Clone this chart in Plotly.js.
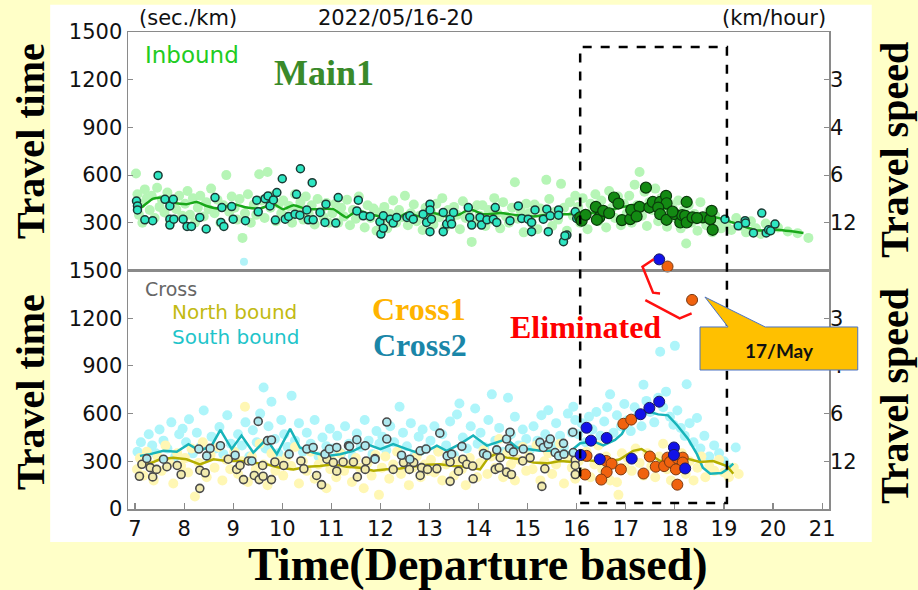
<!DOCTYPE html>
<html><head><meta charset="utf-8">
<script src="https://cdn.plot.ly/plotly-3.0.1.min.js"></script>
<style>html,body{margin:0;padding:0;background:#ffffc8;}#chart{width:918px;height:590px;}</style>
</head><body><div id="chart"></div>
<script>
// ---------- Main1 (top panel) ----------
const mainLightX = [7.02,7.05,7.08,7.12,7.15,7.2,7.24,7.3,7.34,7.4,7.45,7.5,7.55,7.6,7.66,7.72,7.78,7.84,7.9,7.96,
 8.02,8.07,8.12,8.18,8.22,8.28,8.33,8.4,8.45,8.5,8.55,8.62,8.68,8.74,8.8,8.86,8.92,8.97,
 9.03,9.08,9.13,9.19,9.24,9.3,9.36,9.42,9.47,9.53,9.58,9.64,9.7,9.76,9.81,9.87,9.93,9.98,
 10.02,10.08,10.14,10.2,10.26,10.31,10.37,10.43,10.48,10.54,10.6,10.66,10.72,10.78,10.84,10.9,10.95,
 11.02,11.08,11.14,11.2,11.26,11.32,11.38,11.44,11.5,11.56,11.62,11.68,11.74,11.8,11.86,11.92,11.97,
 12.03,12.08,12.14,12.2,12.26,12.32,12.38,12.44,12.5,12.56,12.62,12.68,12.74,12.8,12.86,12.92,12.97,
 13.03,13.08,13.14,13.2,13.26,13.32,13.38,13.44,13.5,13.56,13.62,13.68,13.74,13.8,13.86,13.92,13.97,
 14.02,14.08,14.14,14.2,14.26,14.32,14.38,14.44,14.5,14.56,14.62,14.68,14.74,14.8,14.86,14.92,14.97,
 15.03,15.08,15.14,15.2,15.26,15.32,15.38,15.44,15.5,15.56,15.62,15.68,15.74,15.8,15.86,15.92,15.97,
 16.03,16.07,16.12,16.17,16.22,16.28,16.33,16.38,16.44,16.5,16.55,16.6,16.66,16.72,16.78,16.84,16.9,16.96,
 17.02,17.07,17.12,17.18,17.23,17.28,17.33,17.38,17.43,17.48,17.54,17.6,17.66,17.72,17.78,17.84,17.9,17.96,
 18.02,18.07,18.12,18.18,18.23,18.28,18.34,18.4,18.46,18.52,18.58,18.64,18.7,18.76,18.82,18.88,18.94,
 19.05,19.15,19.25,19.35,19.45,19.55,19.65,19.75,19.85,19.95,20.1,20.3,20.5,20.72];
const mainLightY = [610,480,350,420,300,510,455,380,470,330,520,400,445,365,490,305,430,385,470,345,
 420,500,350,455,300,395,470,340,430,385,515,360,445,300,410,600,370,465,
 395,320,450,205,360,480,300,415,350,605,440,330,620,395,470,310,420,360,
 440,340,405,300,480,375,430,320,465,355,410,290,450,370,335,425,300,
 360,420,300,395,340,445,285,380,325,465,350,270,410,330,390,250,365,
 320,400,265,355,440,300,380,335,470,285,360,415,310,345,255,395,330,
 370,290,420,335,455,270,380,315,400,350,260,435,330,375,180,300,410,
 345,410,280,380,320,455,360,265,430,340,300,395,555,325,375,240,420,
 360,300,415,260,390,335,570,450,280,370,320,545,395,250,430,345,470,
 400,300,455,350,260,420,380,480,310,440,355,270,500,395,330,465,285,420,
 360,470,300,540,410,620,345,495,280,430,380,515,310,455,350,275,420,390,
 330,440,265,380,170,410,300,355,250,430,320,285,375,240,345,300,265,
 300,255,330,280,240,310,265,230,295,250,270,245,235,205];
const mainOtherX = [9.22];
const mainOtherY = [55];
const mainInX = [7.03,7.05,7.05,7.20,7.36,7.47,7.61,7.71,7.71,7.71,7.78,7.79,7.98,8.06,8.15,8.32,8.45,8.63,8.77,8.75,8.81,8.97,9.0,9.25,9.48,9.51,9.65,9.71,9.75,9.82,9.89,9.86,10.0,10.06,10.13,10.26,10.29,10.36,10.37,10.50,10.53,10.61,10.63,10.77,10.87,10.89,11.09,11.14,11.52,11.55,11.65,11.79,11.99,12.01,12.06,12.06,12.20,12.26,12.33,12.54,12.60,12.67,12.87,12.94,13.01,13.01,13.04,13.01,13.28,13.28,13.35,13.42,13.45,13.49,13.79,13.82,13.86,14.03,14.06,14.17,14.30,14.37,14.34,14.64,14.81,14.88,15.01,15.08,15.08,15.15,15.32,15.39,15.42,15.46,15.63,15.63,15.73,15.80,15.97,16.0,15.76,19.02,19.29,19.43,19.44,19.60,19.77,19.86,19.91,19.95,20.04];
const mainInY = [437,406,381,319,313,598,448,406,323,286,448,323,323,277,277,334,261,459,396,302,277,402,323,313,442,369,452,469,406,444,490,317,577,323,340,354,479,348,640,381,319,552,319,365,302,417,298,459,375,442,344,340,306,229,265,344,323,298,334,334,344,323,354,302,417,381,323,244,365,244,292,323,292,365,396,334,286,334,286,319,323,302,396,313,406,327,323,302,244,381,323,386,244,344,381,348,181,223,369,327,219,323,281,313,298,236,361,236,256,250,292];
const main1X = [16.07,16.10,16.39,16.46,16.41,16.54,16.76,16.85,16.92,17.09,17.11,17.28,17.41,17.48,17.55,17.70,17.82,17.83,17.66,17.70,17.83,18.0,18.11,18.15,18.24,18.21,18.24,18.36,18.57,18.72,18.75,18.77,16.18,16.66,17.22,17.95,18.45];
const main1Y = [334,313,400,334,319,375,459,421,317,323,381,400,521,396,431,431,469,423,396,354,319,354,302,348,431,344,302,334,334,323,375,256,350,360,340,370,330];
const mainAvgX = [7.03,7.17,7.37,7.58,7.78,8.05,8.26,8.46,8.73,9.0,9.28,9.55,9.82,10.02,10.23,10.50,10.77,11.04,11.31,11.52,11.79,12.06,12.26,12.54,12.81,13.08,13.35,13.62,13.82,14.10,14.44,14.78,15.12,15.46,15.80,16.07,16.48,16.88,17.29,17.70,18.11,18.51,18.92,19.33,19.67,20.07,20.62];
const mainAvgY = [375,406,452,459,427,417,431,406,390,417,396,390,417,386,411,386,386,386,334,375,354,334,313,361,340,361,340,354,386,354,361,348,340,354,354,360,365,396,417,396,365,354,328,286,252,256,236];

// ---------- Cross (bottom panel) ----------
const southLightX = [7.05,7.12,7.2,7.28,7.35,7.42,7.5,7.58,7.66,7.74,7.82,7.9,7.97,
 8.04,8.1,8.18,8.26,8.33,8.4,8.48,8.56,8.64,8.72,8.8,8.88,8.95,
 9.03,9.1,9.18,9.25,9.33,9.4,9.48,9.55,9.62,9.66,9.72,9.78,9.85,9.92,9.98,
 10.04,10.11,10.19,10.26,10.34,10.42,10.5,10.58,10.66,10.74,10.82,10.9,10.97,
 11.04,11.12,11.2,11.28,11.36,11.44,11.52,11.6,11.68,11.76,11.84,11.92,11.98,
 12.04,12.12,12.2,12.28,12.36,12.39,12.46,12.54,12.62,12.7,12.78,12.86,12.94,
 13.02,13.1,13.18,13.26,13.34,13.42,13.5,13.56,13.61,13.68,13.76,13.84,13.93,13.98,
 14.04,14.12,14.2,14.27,14.34,14.42,14.5,14.6,14.66,14.74,14.82,14.9,14.97,
 15.04,15.12,15.2,15.28,15.36,15.42,15.5,15.58,15.66,15.74,15.82,15.9,15.93,15.97,
 16.03,16.1,16.18,16.25,16.32,16.4,16.48,16.56,16.62,16.68,16.75,16.82,16.9,16.97,
 17.04,17.1,17.18,17.25,17.32,17.36,17.42,17.5,17.58,17.66,17.7,17.76,17.82,17.9,17.97,
 18.0,18.05,18.12,18.2,18.24,18.3,18.38,18.45,18.52,18.6,18.7,18.8,18.9,
 19.0,19.1,19.24];
const southLightY = [360,420,315,470,400,350,500,430,380,545,330,470,505,
 420,565,350,480,390,620,330,455,380,515,345,590,410,
 360,470,400,545,330,495,420,600,764,380,520,675,440,350,560,
 470,390,713,430,540,360,480,410,560,330,450,395,505,
 380,460,350,520,410,330,475,390,560,430,345,490,410,
 455,370,520,420,360,643,480,395,540,340,455,500,380,
 430,520,365,470,400,550,340,594,664,450,380,520,632,410,
 480,390,560,721,430,510,360,700,470,580,400,500,440,
 370,520,430,590,470,621,400,540,460,390,600,480,643,560,
 470,540,420,580,500,610,460,550,640,721,480,590,520,660,
 560,490,640,590,520,781,680,610,545,700,989,640,738,580,530,
 1026,620,510,460,785,540,420,572,380,460,330,400,350,
 300,260,387];
const northLightX = [7.04,7.1,7.17,7.24,7.3,7.38,7.46,7.54,7.62,7.7,7.78,7.86,7.94,
 8.02,8.08,8.15,8.22,8.3,8.38,8.46,8.54,8.62,8.7,8.78,8.86,8.94,
 9.02,9.1,9.18,9.24,9.3,9.38,9.46,9.54,9.62,9.7,9.78,9.86,9.94,
 10.02,10.1,10.18,10.26,10.34,10.42,10.5,10.58,10.66,10.74,10.82,10.9,10.98,
 11.03,11.1,11.18,11.26,11.34,11.42,11.5,11.58,11.66,11.74,11.82,11.9,11.97,
 12.03,12.1,12.18,12.26,12.34,12.42,12.5,12.58,12.66,12.74,12.82,12.9,12.97,
 13.03,13.1,13.18,13.26,13.34,13.42,13.5,13.58,13.66,13.74,13.82,13.9,13.97,
 14.03,14.1,14.18,14.26,14.34,14.42,14.5,14.58,14.66,14.74,14.82,14.9,14.97,
 15.03,15.1,15.18,15.26,15.34,15.42,15.5,15.58,15.66,15.74,15.82,15.9,15.97,
 16.04,16.12,16.2,16.28,16.36,16.44,16.52,16.6,16.68,16.76,16.82,16.85,16.92,16.98,
 17.04,17.12,17.2,17.28,17.36,17.44,17.52,17.6,17.68,17.76,17.84,17.92,17.98,
 18.05,18.14,18.22,18.3,18.38,18.46,18.54,18.62,18.7,18.8,18.9,19.0,19.1,19.2,19.3];
const northLightY = [250,320,210,360,280,180,330,240,400,290,160,350,270,
 320,230,380,79,290,420,200,340,260,390,180,310,250,
 360,220,300,643,170,330,250,410,280,150,350,240,300,
 210,330,270,390,160,300,240,360,190,280,330,130,250,
 300,200,350,240,280,170,320,260,130,290,210,340,89,
 260,330,190,280,360,220,300,150,260,330,200,280,240,
 310,230,360,180,280,330,210,300,250,150,320,270,200,
 290,370,220,330,260,440,200,350,280,180,310,390,240,
 330,250,400,180,300,350,220,280,410,160,320,260,190,
 300,230,360,200,280,400,250,330,180,290,168,89,350,260,
 320,240,380,290,210,350,270,200,330,410,250,180,300,
 280,350,220,300,180,260,330,200,270,240,310,230,200,260,220];
const crossNX = [7.09,7.14,7.31,7.36,7.44,7.65,7.94,7.86,8.32,8.32,8.43,8.90,9.07,9.14,9.21,9.31,9.43,9.53,9.60,9.61,9.78,9.85,10.03,10.38,10.44,10.70,10.80,10.91,11.04,11.11,11.45,11.53,11.69,11.89,11.24,11.71,12.26,12.47,12.59,12.68,12.84,12.81,12.96,13.15,13.42,13.42,13.59,13.68,13.76,13.88,13.89,14.34,14.42,14.44,14.57,14.67,14.90,15.05,15.29,15.35,15.97,15.97,15.97];
const crossNY = [206,281,260,202,249,266,217,274,244,130,228,313,249,274,185,302,211,185,274,206,185,296,274,302,253,211,153,313,292,238,296,202,249,317,296,302,249,292,249,292,260,211,249,253,296,174,238,313,281,270,190,249,260,323,232,217,302,323,142,253,308,217,274];
const crossSX = [7.24,7.58,8.30,8.46,8.53,8.74,9.04,9.38,9.51,9.70,9.78,10.14,10.50,10.63,10.87,10.96,11.11,11.35,11.52,11.69,11.37,11.89,12.13,12.13,12.43,12.60,12.81,12.93,13.21,13.36,13.45,13.66,14.10,14.17,14.37,14.57,14.64,14.63,14.71,14.91,15.25,15.32,15.42,15.46,15.56,15.63,15.73,15.74,15.92,15.93,16.07];
const crossSY = [317,313,377,334,381,398,338,302,551,430,434,345,377,387,345,377,387,398,436,398,394,313,547,440,338,313,366,377,477,334,345,394,349,338,372,440,483,381,359,377,419,387,408,440,355,334,413,345,483,355,340];
const southAvgX = [7.10,7.31,7.58,7.85,8.09,8.32,8.56,8.74,8.97,9.17,9.41,9.68,9.89,10.16,10.36,10.63,10.91,11.18,11.45,11.72,12.0,12.26,12.54,12.84,13.15,13.35,13.62,13.89,14.17,14.37,14.57,14.78,14.98,15.25,15.52,15.80,16.07,16.34,16.54,16.78,16.92,17.07,17.29,17.49,17.66,17.86,18.05,18.27,18.45,18.57,18.72,18.95,19.06,19.19];
const southAvgY = [334,345,366,360,408,366,398,498,377,462,355,440,345,504,387,355,334,345,366,408,377,408,377,345,398,366,408,462,398,419,440,387,377,366,366,345,414,425,400,435,472,557,600,610,595,589,525,440,345,260,222,226,249,285];
const northAvgX = [7.10,7.51,7.78,8.05,8.32,8.60,8.87,9.14,9.41,9.68,9.95,10.23,10.50,10.77,11.04,11.31,11.58,11.86,12.13,12.40,12.68,12.95,13.21,13.49,13.76,14.03,14.20,14.34,14.57,14.85,15.12,15.39,15.66,15.93,16.07,16.34,16.61,16.88,17.15,17.32,17.49,17.70,17.97,18.24,18.51,18.78,19.06,19.19];
const northAvgY = [260,313,323,313,281,313,302,302,292,281,260,249,266,270,281,266,260,240,250,255,268,278,281,270,266,249,323,345,323,313,292,287,302,296,313,302,292,313,366,377,345,302,313,317,296,302,270,222];
const cross2X = [16.08,16.20,16.29,16.61,16.47,17.12,17.30,17.48,17.68,17.98,17.98,18.21];
const cross2Y = [340,511,430,447,313,317,596,636,675,387,340,255];
const cross1X = [16.95,17.11,16.20,16.60,16.71,16.61,16.17,16.50,16.90,17.36,17.49,17.61,17.78,17.85,17.90,18.05,18.16,18.16,18.02,18.05];
const cross1Y = [536,562,334,302,285,232,217,185,249,223,330,266,270,323,296,319,323,292,249,153];
// eliminated (17/May) points
const elim2X = [17.68];
const elim2Y = [1570];
const elim1X = [17.85,18.35];
const elim1Y = [1525,1315];

// ---------- axes ----------
const xTicks = [7,8,9,10,11,12,13,14,15,16,17,18,19,20,21];
const timeTicksTop = [300,600,900,1200,1500];
const timeTicksBottom = [0,300,600,900,1200,1500];
const speedTickVals = [300,600,900,1200];
const speedTickText = ['12','6','4','3'];

const gray = '#8a8a8a';
const tickFont = {family:'DejaVu Sans', size:21, color:'#111'};

const traces = [
  {x:mainLightX, y:mainLightY, xaxis:'x2', yaxis:'y2', mode:'markers', type:'scatter',
   marker:{size:10, color:'#b6f5b6'}},
  {x:mainOtherX, y:mainOtherY, xaxis:'x2', yaxis:'y2', mode:'markers', type:'scatter',
   marker:{size:8, color:'#b2f3f8'}},
  {x:mainAvgX, y:mainAvgY, xaxis:'x2', yaxis:'y2', mode:'lines', type:'scatter',
   line:{color:'#1aa81a', width:2.5, shape:'spline', smoothing:0.6}},
  {x:mainInX, y:mainInY, xaxis:'x2', yaxis:'y2', mode:'markers', type:'scatter',
   marker:{size:8, color:'#2ee6c2', line:{color:'#1c3a34', width:1.5}}},
  {x:main1X, y:main1Y, xaxis:'x2', yaxis:'y2', mode:'markers', type:'scatter',
   marker:{size:11, color:'#138a13', line:{color:'#0b3a0b', width:1.2}}},

  {x:southLightX, y:southLightY, xaxis:'x', yaxis:'y', mode:'markers', type:'scatter',
   marker:{size:10, color:'#aef5fa'}},
  {x:northLightX, y:northLightY, xaxis:'x', yaxis:'y', mode:'markers', type:'scatter',
   marker:{size:10, color:'#fff7b4'}},
  {x:southAvgX, y:southAvgY, xaxis:'x', yaxis:'y', mode:'lines', type:'scatter',
   line:{color:'#18b4ba', width:2.5}},
  {x:northAvgX, y:northAvgY, xaxis:'x', yaxis:'y', mode:'lines', type:'scatter',
   line:{color:'#b4ae00', width:2.5}},
  {x:crossNX, y:crossNY, xaxis:'x', yaxis:'y', mode:'markers', type:'scatter',
   marker:{size:8, color:'#f2ebae', line:{color:'#4a4a4a', width:1.6}}},
  {x:crossSX, y:crossSY, xaxis:'x', yaxis:'y', mode:'markers', type:'scatter',
   marker:{size:8, color:'#aee8ee', line:{color:'#4a4a4a', width:1.6}}},
  {x:cross1X, y:cross1Y, xaxis:'x', yaxis:'y', mode:'markers', type:'scatter',
   marker:{size:11, color:'#f0620e', line:{color:'#7a3a12', width:1}}},
  {x:cross2X, y:cross2Y, xaxis:'x', yaxis:'y', mode:'markers', type:'scatter',
   marker:{size:11, color:'#1212e8', line:{color:'#1a1a60', width:1}}},
  {x:elim1X, y:elim1Y, xaxis:'x', yaxis:'y5', mode:'markers', type:'scatter', cliponaxis:false,
   marker:{size:11, color:'#f0620e', line:{color:'#7a3a12', width:1}}},
  {x:elim2X, y:elim2Y, xaxis:'x', yaxis:'y5', mode:'markers', type:'scatter', cliponaxis:false,
   marker:{size:11, color:'#1212e8', line:{color:'#1a1a60', width:1}}},
  {x:[], y:[], xaxis:'x', yaxis:'y3', type:'scatter', mode:'markers'},
  {x:[], y:[], xaxis:'x2', yaxis:'y4', type:'scatter', mode:'markers'}
];

const xCommon = {range:[6.857,21.14], tickvals:xTicks, ticks:'inside', ticklen:6, tickwidth:1.2,
  tickcolor:gray, showline:true, linecolor:gray, linewidth:1.5, mirror:true,
  showgrid:false, zeroline:false, tickfont:tickFont};

function ann(text, x, y, xa, font, extra){
  return Object.assign({text:text, x:x, y:y, xref:'paper', yref:'paper', xanchor:xa, yanchor:'middle',
    showarrow:false, font:font}, extra||{});
}
const serif = (s,c)=>({family:'Liberation Serif', size:s, color:c});
const sans = (s,c)=>({family:'DejaVu Sans', size:s, color:c});

const layout = {
  width:918, height:590,
  margin:{l:128, r:89, t:32, b:81},
  paper_bgcolor:'#ffffc8', plot_bgcolor:'rgba(0,0,0,0)',
  showlegend:false, hovermode:false,
  xaxis: Object.assign({}, xCommon, {domain:[0,1], anchor:'y'}),
  xaxis2: Object.assign({}, xCommon, {domain:[0,1], anchor:'y2', matches:'x', showticklabels:false, ticks:''}),
  yaxis: {domain:[0,0.5], range:[0,1500], tickvals:timeTicksBottom, ticks:'inside', ticklen:5,
    tickcolor:gray, showline:true, linecolor:gray, linewidth:1.5, mirror:true, showgrid:false,
    zeroline:false, tickfont:tickFont, anchor:'x'},
  yaxis2: {domain:[0.5,1], range:[0,1500], tickvals:timeTicksTop, ticks:'inside', ticklen:5,
    tickcolor:gray, showline:true, linecolor:gray, linewidth:1.5, mirror:true, showgrid:false,
    zeroline:false, tickfont:tickFont, anchor:'x2'},
  yaxis3: {overlaying:'y', side:'right', anchor:'x', range:[0,1500], tickvals:speedTickVals,
    ticktext:speedTickText, ticks:'inside', ticklen:5, tickcolor:gray, showgrid:false,
    zeroline:false, showline:false, tickfont:tickFont},
  yaxis4: {overlaying:'y2', side:'right', anchor:'x2', range:[0,1500], tickvals:speedTickVals,
    ticktext:speedTickText, ticks:'inside', ticklen:5, tickcolor:gray, showgrid:false,
    zeroline:false, showline:false, tickfont:tickFont},
  // same scale as the bottom panel, extended upward so eliminated points above 1500 stay visible
  yaxis5: {domain:[0,0.54], range:[0,1620], visible:false, anchor:'x', showgrid:false, zeroline:false},
  shapes: [
    {type:'rect', xref:'paper', yref:'paper', x0:-0.111, x1:1.061, y0:-0.069, y1:1.057,
     fillcolor:'#ffffff', line:{width:0}, layer:'below'},
    {type:'rect', xref:'x', yref:'paper', x0:16.07, x1:19.06, y0:0.0126, y1:0.9686,
     line:{color:'#000', width:2.5, dash:'dash'}},
    {type:'path', xref:'paper', yref:'paper',
     path:'M0.750,0.5235 L0.734,0.508 L0.749,0.4535 L0.759,0.452 M0.738,0.438 L0.787,0.3998 L0.804,0.4103',
     line:{color:'#ff1010', width:2.5}},
    {type:'path', xref:'paper', yref:'paper',
     path:'M0.816,0.3816 L0.856,0.3816 L0.823,0.4444 L0.909,0.3816 L1.041,0.3816 L1.041,0.2914 L0.816,0.2914 Z',
     fillcolor:'#ffc000', line:{color:'#4a72c4', width:1}}
  ],
  annotations: [
    ann('(sec./km)', 0.013, 1.029, 'left', sans(21,'#111')),
    ann('2022/05/16-20', 0.381, 1.029, 'center', sans(21,'#111')),
    ann('(km/hour)', 0.9986, 1.029, 'right', sans(21,'#111')),
    ann('Inbound', 0.021, 0.952, 'left', sans(23,'#22cc22')),
    ann('<b>Main1</b>', 0.280, 0.914, 'center', serif(36,'#3a8a2a')),
    ann('Cross', 0.021, 0.461, 'left', sans(19,'#666666')),
    ann('North bound', 0.060, 0.413, 'left', sans(20,'#c2ba12')),
    ann('South bound', 0.060, 0.361, 'left', sans(20,'#1ec4ca')),
    ann('<b>Cross1</b>', 0.415, 0.4193, 'center', serif(32,'#ffb400')),
    ann('<b>Cross2</b>', 0.417, 0.3438, 'center', serif(32,'#1a86a8')),
    ann('<b>Eliminated</b>', 0.653, 0.3816, 'center', serif(32,'#ff0000')),
    ann('<b>17/May</b>', 0.930, 0.333, 'center', {family:'Lato', size:19, color:'#111'}),
    ann('<b>Travel time</b>', -0.14, 0.771, 'center', serif(40,'#000'), {textangle:-90}),
    ann('<b>Travel time</b>', -0.14, 0.245, 'center', serif(40,'#000'), {textangle:-90}),
    ann('<b>Travel speed</b>', 1.094, 0.753, 'center', serif(40,'#000'), {textangle:-90}),
    ann('<b>Travel speed</b>', 1.094, 0.237, 'center', serif(40,'#000'), {textangle:-90}),
    ann('<b>Time(Departure based)</b>', 0.499, -0.117, 'center', serif(46,'#000'))
  ]
};

Plotly.newPlot('chart', traces, layout, {displayModeBar:false, staticPlot:true});
</script>
</body></html>
